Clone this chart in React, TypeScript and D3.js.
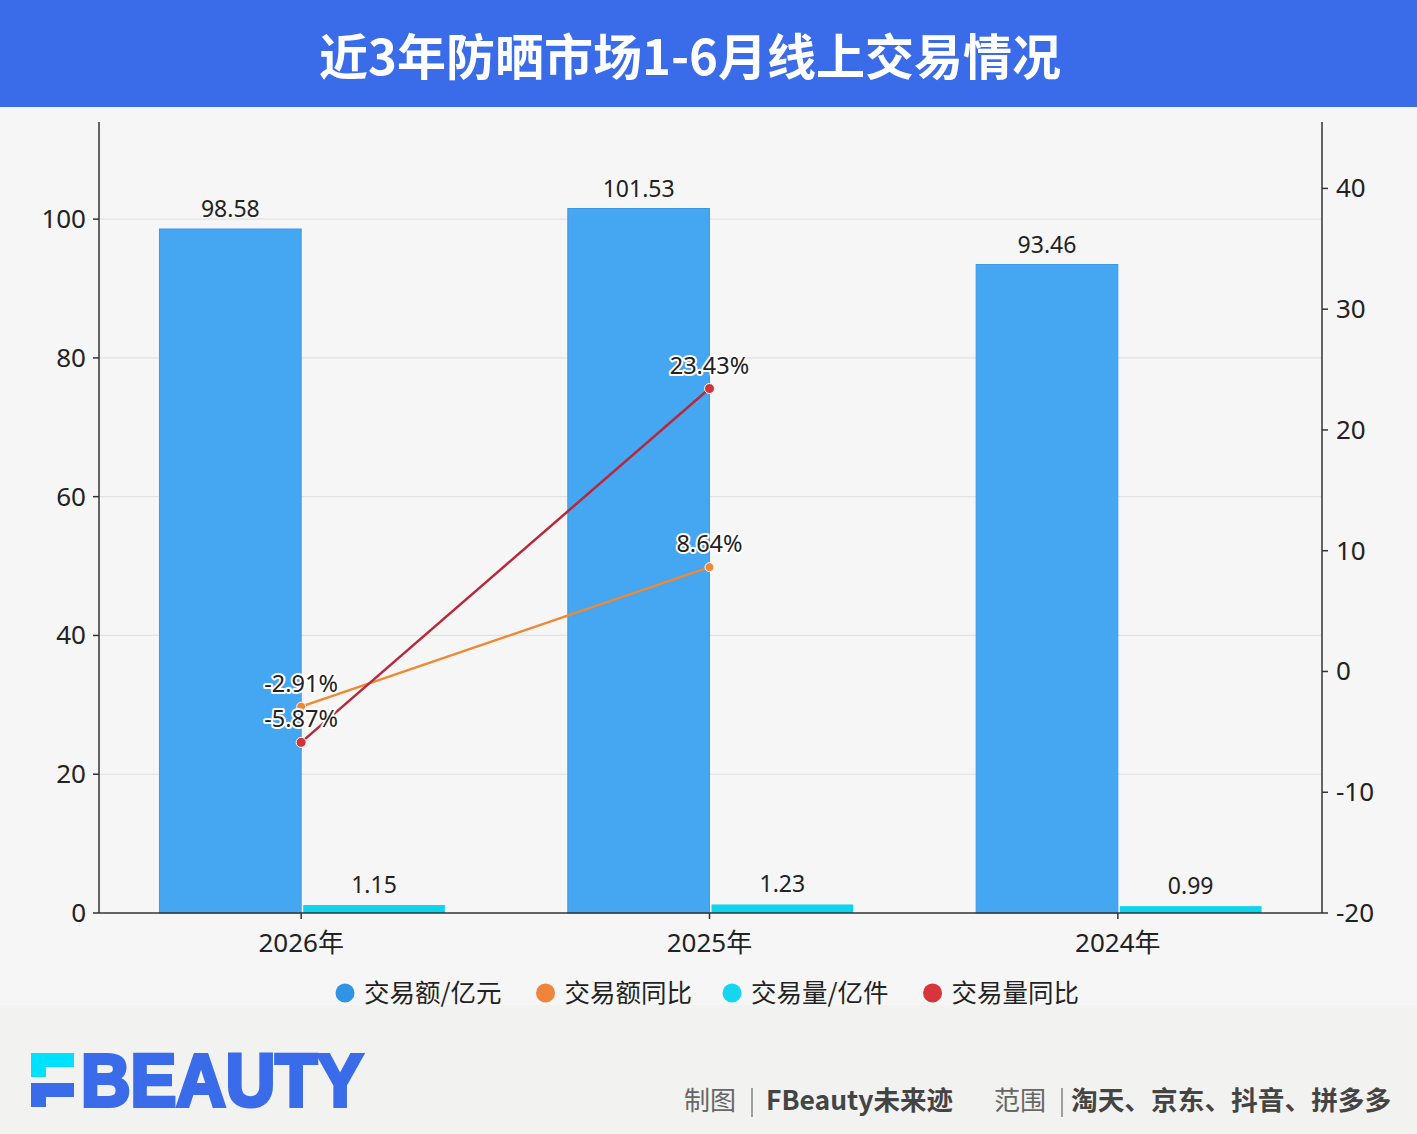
import React from 'react';
import * as d3 from 'd3';

const categories = ['2026年', '2025年', '2024年'];
const amountValues = [98.58, 101.53, 93.46];
const volumeValues = [1.15, 1.23, 0.99];
const amountYoY: (number | null)[] = [-2.91, 8.64, null];
const volumeYoY: (number | null)[] = [-5.87, 23.43, null];
const leftTicks = [0, 20, 40, 60, 80, 100];
const rightTicks = [-20, -10, 0, 10, 20, 30, 40];
const legendItems = ['交易额/亿元', '交易额同比', '交易量/亿件', '交易量同比'];
const legendColors = ['#2f93e6', '#f0843a', '#14d6ef', '#d8343c'];

const W = 1417;
const H = 1134;
const FONT = '"Noto Sans", "Noto Sans CJK SC", sans-serif';
const CJK = '"Noto Sans CJK SC", "Noto Sans", sans-serif';

export default function App() {
  const left = 99;
  const right = 1322;
  const top = 122;
  const bottom = 913;

  const x = d3.scaleBand<string>().domain(categories).range([left - 2, right]).padding(0);
  const yL = d3.scaleLinear().domain([0, 114]).range([bottom, top]);
  const yR = d3.scaleLinear().domain([-20, 45.5]).range([bottom, top]);
  const bw = x.bandwidth() * 0.347;
  const cx = (c: string) => (x(c) as number) + x.bandwidth() / 2;

  const lineGen = d3
    .line<{ c: string; v: number }>()
    .x((d) => cx(d.c))
    .y((d) => yR(d.v));

  const amtPts = categories
    .map((c, i) => ({ c, v: amountYoY[i] }))
    .filter((d) => d.v !== null) as { c: string; v: number }[];
  const volPts = categories
    .map((c, i) => ({ c, v: volumeYoY[i] }))
    .filter((d) => d.v !== null) as { c: string; v: number }[];

  // legend layout
  const legendFont = 25.5;
  const textW = (s: string) =>
    Array.from(s).reduce((a, ch) => a + (/[\u4e00-\u9fff]/.test(ch) ? legendFont : legendFont * 0.55), 0);
  const gap = 40;
  const itemW = legendItems.map((s) => 19 + textW(s));
  let lx = 345;
  const legendPos = itemW.map((w) => {
    const p = lx;
    lx += w + gap;
    return p;
  });

  const halo = {
    stroke: '#ffffff',
    strokeWidth: 4,
    paintOrder: 'stroke' as const,
    strokeLinejoin: 'round' as const,
  };

  return (
    <svg
      width={W}
      height={H}
      style={{ position: 'absolute', left: 0, top: 0, display: 'block' }}
      fontFamily={FONT}
    >
      <rect x={0} y={0} width={W} height={H} fill="#f2f2f0" />
      <rect x={0} y={107} width={W} height={898} fill="#f6f6f6" />
      <rect x={0} y={0} width={W} height={107} fill="#3a6be8" />
      <text
        x={690}
        y={75}
        textAnchor="middle"
        fill="#ffffff"
        fontSize={49}
        fontWeight={700}
        fontFamily={CJK}
      >
        近3年防晒市场1-6月线上交易情况
      </text>

      {/* gridlines */}
      {leftTicks
        .filter((t) => t > 0)
        .map((t) => (
          <line key={'g' + t} x1={left} x2={right} y1={yL(t)} y2={yL(t)} stroke="#e2e2e2" strokeWidth={1.2} />
        ))}

      {/* bars */}
      {categories.map((c, i) => (
        <g key={'b' + c}>
          <rect
            x={cx(c) - bw}
            y={yL(amountValues[i])}
            width={bw}
            height={bottom - yL(amountValues[i])}
            fill="#45a7f1"
            stroke="#3d9ae6"
            strokeWidth={1}
          />
          <rect
            x={cx(c) + 2}
            y={yL(volumeValues[i])}
            width={bw}
            height={bottom - yL(volumeValues[i])}
            fill="#0fd3ea"
          />
          <text x={cx(c) - bw / 2} y={yL(amountValues[i]) - 12} textAnchor="middle" fontSize={23} fill="#222">
            {amountValues[i].toFixed(2)}
          </text>
          <text x={cx(c) + 2 + bw / 2} y={yL(volumeValues[i]) - 12} textAnchor="middle" fontSize={23} fill="#222">
            {volumeValues[i].toFixed(2)}
          </text>
        </g>
      ))}

      {/* axes */}
      <line x1={left} x2={left} y1={top} y2={bottom} stroke="#333" strokeWidth={1.5} />
      <line x1={right} x2={right} y1={top} y2={bottom} stroke="#333" strokeWidth={1.5} />
      <line x1={left} x2={right} y1={bottom} y2={bottom} stroke="#333" strokeWidth={1.5} />

      {leftTicks.map((t) => (
        <g key={'lt' + t}>
          <line x1={left - 6} x2={left} y1={yL(t)} y2={yL(t)} stroke="#333" strokeWidth={1.5} />
          <text x={left - 13} y={yL(t) + 9} textAnchor="end" fontSize={26} fill="#222">
            {t}
          </text>
        </g>
      ))}
      {rightTicks.map((t) => (
        <g key={'rt' + t}>
          <line x1={right} x2={right + 6} y1={yR(t)} y2={yR(t)} stroke="#333" strokeWidth={1.5} />
          <text x={right + 14} y={yR(t) + 9} textAnchor="start" fontSize={26} fill="#222">
            {t < 0 ? '-' + Math.abs(t) : t}
          </text>
        </g>
      ))}
      {categories.map((c) => (
        <g key={'xt' + c}>
          <line x1={cx(c)} x2={cx(c)} y1={bottom} y2={bottom + 6} stroke="#333" strokeWidth={1.5} />
          <text x={cx(c)} y={bottom + 39} textAnchor="middle" fontSize={26} fill="#222">
            {c}
          </text>
        </g>
      ))}

      {/* lines */}
      <path d={lineGen(amtPts) || ''} fill="none" stroke="#ee8833" strokeWidth={2.5} />
      <path d={lineGen(volPts) || ''} fill="none" stroke="#b8283a" strokeWidth={2.5} />
      {amtPts.map((d) => (
        <circle key={'ad' + d.c} cx={cx(d.c)} cy={yR(d.v)} r={4.5} fill="#ee8833" stroke="#fff" strokeWidth={1} />
      ))}
      {volPts.map((d) => (
        <circle key={'vd' + d.c} cx={cx(d.c)} cy={yR(d.v)} r={5} fill="#d2343c" stroke="#fff" strokeWidth={1} />
      ))}
      {amtPts.map((d) => (
        <text key={'al' + d.c} x={cx(d.c)} y={yR(d.v) - 15} textAnchor="middle" fontSize={23.5} fill="#222" {...halo}>
          {d.v.toFixed(2) + '%'}
        </text>
      ))}
      {volPts.map((d) => (
        <text key={'vl' + d.c} x={cx(d.c)} y={yR(d.v) - 15} textAnchor="middle" fontSize={23.5} fill="#222" {...halo}>
          {d.v.toFixed(2) + '%'}
        </text>
      ))}

      {/* legend */}
      {legendItems.map((s, i) => (
        <g key={'lg' + s} transform={`translate(${legendPos[i]},993)`}>
          <circle cx={0} cy={0} r={9.5} fill={legendColors[i]} />
          <text x={19} y={9} fontSize={legendFont} fill="#222" fontFamily={CJK}>
            {s}
          </text>
        </g>
      ))}

      {/* footer logo */}
      <path d="M31,1053 H74 V1067 H46 V1077 H31 Z" fill="#00e0ff" />
      <path d="M31,1083 H74 V1097 H46 V1107 H31 Z" fill="#3a6be8" />
      <text
        x={81}
        y={1106}
        fontSize={74}
        fontWeight={900}
        fill="#3a6be8"
        stroke="#3a6be8"
        strokeWidth={4}
        strokeLinejoin="miter"
        fontFamily='"Liberation Sans", Arial, sans-serif'
        textLength={282}
        lengthAdjust="spacingAndGlyphs"
      >
        BEAUTY
      </text>

      {/* footer text */}
      <g fontFamily={CJK} fontSize={26}>
        <text x={684} y={1110} fill="#666">制图</text>
        <line x1={752} x2={752} y1={1088} y2={1117} stroke="#666" strokeWidth={1.2} />
        <text x={766} y={1110} fill="#444" fontWeight={700} fontSize={26.5}>FBeauty未来迹</text>
        <text x={994} y={1110} fill="#666">范围</text>
        <line x1={1062} x2={1062} y1={1088} y2={1117} stroke="#666" strokeWidth={1.2} />
        <text x={1071} y={1110} fill="#444" fontWeight={700} fontSize={26.7}>淘天、京东、抖音、拼多多</text>
      </g>
    </svg>
  );
}
